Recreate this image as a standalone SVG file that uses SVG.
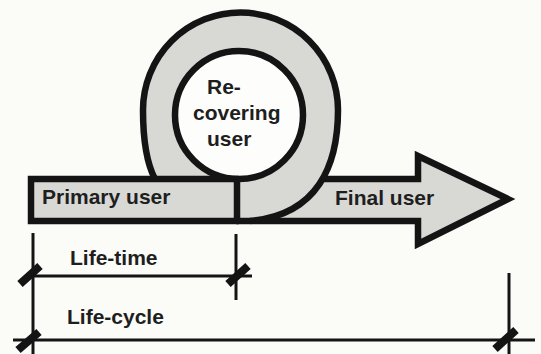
<svg xmlns="http://www.w3.org/2000/svg" width="541" height="354" viewBox="0 0 541 354">
  <style>
    .band { fill: #d8d8d5; stroke: none; }
    .edge { fill: none; stroke: #141414; stroke-width: 6.5; stroke-linejoin: miter; }
    .dim { fill: none; stroke: #141414; stroke-width: 3; }
    .tick { stroke: #141414; stroke-width: 8; stroke-linecap: butt; }
    .lbl { font-family: "Liberation Sans", Arial, sans-serif; font-weight: bold; font-size: 21px; fill: #1e1e1e; }
  </style>
  <rect width="541" height="354" fill="#fbfbf8"/>

  <!-- user-stage band: primary bar, recovery loop, final arrow -->
  <g id="band">
    <path class="band" d="M31,179 H418 V156 L508,199 L418,244 V221 H31 Z"/>
    <path class="band" d="M155,179 C145,160 143,135 143,110 A97.5,97.5 0 0 1 338,110 C338,165 318,215 250,221 H155 Z"/>
  </g>

  <g id="recovering-user">
    <circle cx="239" cy="115" r="64" fill="#fdfdfb" stroke="#141414" stroke-width="6.5"/>
    <text class="lbl" x="207" y="94">Re-</text>
    <text class="lbl" x="193" y="120">covering</text>
    <text class="lbl" x="207" y="146">user</text>
  </g>

  <g id="primary-user">
    <path class="edge" d="M239,179 H31 V221 H239"/>
    <text class="lbl" x="42" y="204">Primary user</text>
  </g>

  <g id="final-user">
    <path class="edge" d="M236,221 H418 V244 L508,199 L418,156 V179 H323"/>
    <text class="lbl" x="335" y="205">Final user</text>
  </g>

  <g id="connectors">
    <!-- loop outline and stage divider -->
    <path class="edge" d="M155,179 C145,160 143,135 143,110 A97.5,97.5 0 0 1 338,110 C338,165 318,215 250,221"/>
    <line class="edge" x1="237" y1="181" x2="237" y2="221"/>

    <!-- life-time span -->
    <line class="dim" x1="33" y1="233" x2="33" y2="354"/>
    <line class="dim" x1="236" y1="234" x2="236" y2="300"/>
    <line class="dim" x1="33" y1="276" x2="252" y2="276"/>
    <line class="tick" x1="20" y1="284" x2="40" y2="266"/>
    <line class="tick" x1="228" y1="284" x2="248" y2="266"/>

    <!-- life-cycle span -->
    <line class="dim" x1="509" y1="273" x2="509" y2="354"/>
    <line class="dim" x1="13" y1="340" x2="535" y2="340"/>
    <line class="tick" x1="18" y1="350" x2="39" y2="332"/>
    <line class="tick" x1="495" y1="349" x2="516" y2="330"/>
  </g>

  <g id="spans">
    <text class="lbl" x="70" y="265">Life-time</text>
    <text class="lbl" x="67" y="324">Life-cycle</text>
  </g>
</svg>
